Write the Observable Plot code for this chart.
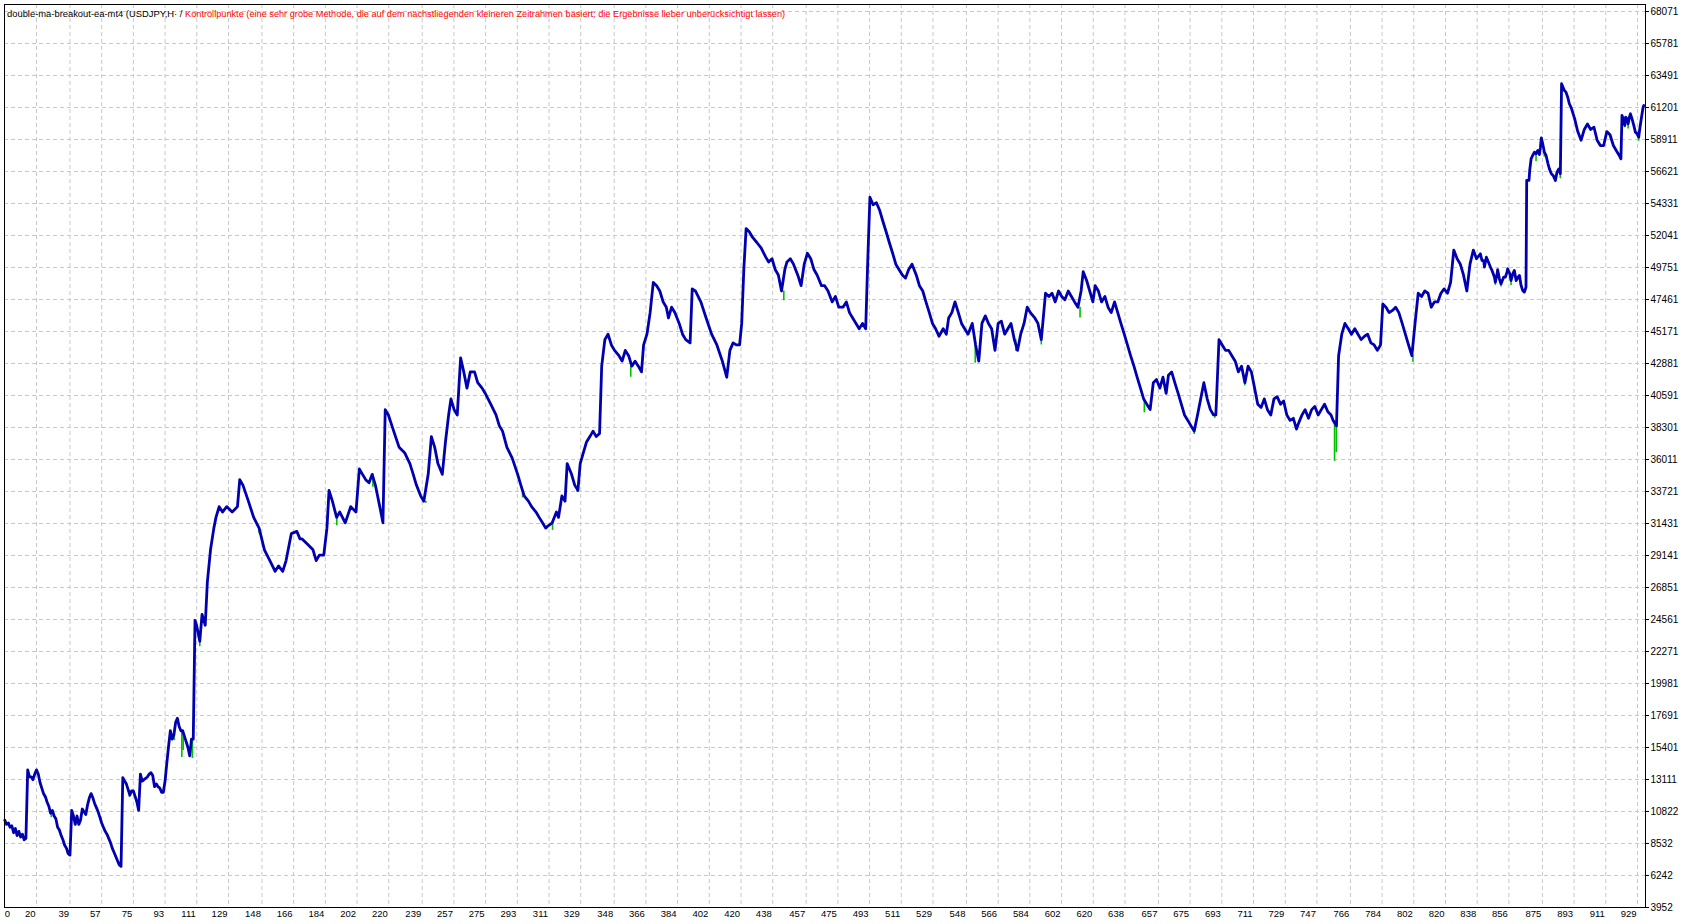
<!DOCTYPE html>
<html><head><meta charset="utf-8">
<script src="https://cdn.jsdelivr.net/npm/d3@7"></script>
<script src="https://cdn.jsdelivr.net/npm/@observablehq/plot@0.6"></script>
<style>
html,body{margin:0;padding:0;background:#fff;}
#chart{position:relative;width:1690px;height:924px;}
</style></head><body><div id="chart"></div>
<script>
const titleMain = "double-ma-breakout-ea-mt4 (USDJPY,H\u00B7 / ";
const titleNote = "Kontrollpunkte (eine sehr grobe Methode, die auf dem nächstliegenden kleineren Zeitrahmen basiert; die Ergebnisse lieber unberücksichtigt lassen)";

const yTicks = [3952, 6242, 8532, 10822, 13111, 15401, 17691, 19981, 22271, 24561, 26851, 29141, 31431, 33721, 36011, 38301, 40591, 42881, 45171, 47461, 49751, 52041, 54331, 56621, 58911, 61201, 63491, 65781, 68071];
const xTicks = [0, 20, 39, 57, 75, 93, 111, 129, 148, 166, 184, 202, 220, 239, 257, 275, 293, 311, 329, 348, 366, 384, 402, 420, 438, 457, 475, 493, 511, 529, 548, 566, 584, 602, 620, 638, 657, 675, 693, 711, 729, 747, 766, 784, 802, 820, 838, 856, 875, 893, 911, 929];

// balance curve: trade number / balance
const balTrade = [2,3,4,5,6,7,8,9,10,11,12,13,14,15,16,17,18,19,20,21,22,23,24,25,26,27,28,29,30,31,32,33,34,35,36,37,38,39,40,41,42,43,44,45,46,47,48,49,50,51,52,53,54,55,56,57,58,59,60,61,62,63,64,65,66,67,68,69,70,71,72,73,74,75,76,77,78,79,80,81,82,83,84,85,86,87,88,89,90,91,92,93,94,95,96,97,98,99,100,101,102,103,104,105,106,107,108,109,110,
110.9,112.7,114,115.8,117,118.8,120.7,121.9,123.7,125.6,128,131.1,134.1,135.4,137.2,140.3,143.3,146.4,149.4,152.5,155.5,157.4,159.8,161.7,163.5,164.7,167.8,169.6,170.8,173.9,177,178.8,180.6,183.1,184.9,186.1,188,190.4,192.2,195.3,198.4,201.4,203.3,205.1,206.9,208.8,210.6,212.4,214.9,216.7,218,219.8,222.8,225.9,229,232,233.9,235.7,238.1,239.9,242.4,244.2,246.1,247.9,250.4,252.2,254,255.3,257.1,258.9,260.8,262.6,264.4,266.3,268.7,270.5,273,274.8,277.9,280.9,282.8,284.6,287.1,290.1,293.2,295,296.9,299.3,301.1,303.6,305.4,307.3,309.1,310.3,312.8,315.2,316.4,318.3,320.1,321.3,323.8,325.6,327.4,328.7,330.5,332.3,334.2,336,337.8,339.7,340.9,342.7,344.5,346.4,348.2,350.7,352.5,354.3,356.2,358,359.9,361.7,363.5,364.7,366.6,368.4,370.2,372.1,373.9,375.8,377.6,378.8,380.6,382.5,384.9,386.8,388.6,391.1,392.3,394.1,397.2,400.2,403.3,406.3,409.4,411.9,413.7,415.5,417.3,419.2,420.4,421.6,422.9,424.7,426.5,429,431.4,433.9,435.7,437.6,439.4,441.2,443,444.9,446.1,448,449.8,452.2,454.1,455.9,457.7,459.6,461.4,463.2,465.7,467.5,469.4,471.8,473.6,475.5,477.9,479.8,481.6,483.4,485.3,487.1,489,490.8,492,493.2,495,496.9,498.7,500.5,502.4,504.2,506.1,507.9,509.7,511.6,513.4,515.2,517.1,519.5,521.3,523.2,525,526.9,528.7,530.5,532.4,534.8,536.6,537.9,539.7,541.5,543.4,545.2,547,548.9,551.3,553.2,555,556.8,558.7,560.5,562.3,564.2,566,567.8,569.7,571.5,573.3,575.2,577,578.8,580.7,582.5,584.3,586.8,588.6,590.5,592.9,594.8,596.6,598.4,600.3,602.1,603.9,605.8,607.6,609.4,611.3,613.1,614.3,616.2,618,619.8,621.1,622.9,624.7,626.6,628.4,630.2,632.1,633.9,635.7,637.6,639.4,641.2,643.1,644.9,646.8,648.6,650.4,652.3,654.1,655.9,657.8,659.6,661.4,662.7,664.5,666.3,668.2,670,671.8,673.7,675.5,677.3,679.2,681,682.8,684.7,686.5,688.3,689.6,691.4,693.2,695.1,696.9,698.7,700.6,702.4,704.2,706.1,707.9,709.8,711.6,713.4,715.3,717.1,718.9,720.8,722.6,724.4,726.3,728.1,729.9,731.8,733.6,735.4,736.7,738.5,740.3,742.2,744,745.8,747.7,749.5,751.3,753.2,755,756.2,758.1,759.3,761.1,762.9,764.8,766.6,768.5,770.3,772.1,774,775.8,777.6,779.5,781.3,783.1,784.4,786.2,788,789.9,791.7,793.5,795.4,797.2,799,800.9,802.7,804.5,806.4,808.2,810.1,811.9,813.7,815.6,817.4,819.2,821.1,822.9,824.7,826.6,828.4,830.2,832.1,833.9,835.8,837.6,
839.8,840.7,841.7,842.1,843.2,844,845.5,846.4,847.8,848.3,849.3,849.6,850.6,851.5,853,854,854.9,855.3,856.5,857.2,858.2,859.1,860.1,861.2,862,862.9,863.8,864.8,865.7,866.1,867.4,867.8,868.6,869.5,870.5,871.4,872.4,873.3,873.9,874.4,875.2,876.1,877.1,878.2,879,880.1,881.1,882.4,883.3,884.3,885.2,885.9,887.5,888.4,889.4,890.3,
891.4,893.3,895.1,897,898.8,900.6,902.4,904.3,906.1,907.9,909.8,911.6,913.4,915.3,917.1,918.9,
919.6,920.2,921.2,921.8,922.3,923.1,923.7,924.4,925,925.9,926.9,927.8,928.8,929.7,930.3,931,931.6,932.2,932.6];
const balValue = [10200,9900,10000,9700,9800,9300,9600,9100,9400,9000,9200,8800,8900,13800,13300,13300,13100,13500,13800,13500,12900,12500,12100,11900,11500,11200,10700,10900,10500,10300,9700,9500,9100,8800,8400,8200,7800,7700,10900,10500,9900,10500,9900,10200,11000,10800,10600,11300,11800,12100,11800,11400,11100,10800,10400,10000,9700,9400,9200,8900,8600,8200,7900,7600,7300,7000,6900,13250,13000,12800,12400,12000,12300,12300,11900,11500,10900,13500,13000,13100,13200,13300,13500,13600,13400,12600,12800,12600,12500,12200,12200,13000,14300,15500,16600,16000,16300,17200,17500,16900,16600,16600,16200,15800,15400,14800,16000,16000,24500,
24150,23000,24930,24150,27240,29550,31100,31870,32640,32250,32640,32250,32640,34570,34180,33030,31870,31100,29550,28780,28010,28400,28010,28780,29940,30710,30870,30330,30330,29940,29550,28780,29170,29170,31100,33800,33030,31870,32250,31480,32640,32250,35340,34950,34570,34340,34950,34180,32640,31480,39580,39200,38040,36880,36500,35720,34950,34180,33410,33030,34950,37650,36880,35720,34950,37270,39200,40350,39580,39200,43280,42280,41120,42280,42280,41510,41120,40740,39970,39200,38420,38040,36880,36110,34950,34180,33410,33030,32640,32250,31870,31480,31100,31250,31480,32250,31870,33410,33030,35720,34950,34180,33800,35720,36500,37270,37650,38040,37650,37880,42690,44590,44980,44210,43820,43440,43050,43820,43440,42690,43050,42690,42280,44210,44980,46520,48680,48450,48070,47290,46910,46140,46910,46520,45750,44980,44590,44360,48220,48070,47290,46140,44980,44210,43050,41900,43820,44360,44210,44210,45750,49610,52540,52310,51920,51540,51150,50530,50150,50380,49610,49220,48070,49610,50150,50380,49990,49220,48450,49990,50770,50380,49610,49220,48450,48450,48070,47290,47680,46910,46910,47290,46520,46140,45750,45370,45750,45370,50380,54780,54240,54390,53850,53080,52310,51540,50770,49990,49610,49220,48990,49610,49990,49220,48450,48070,47290,46520,45750,45370,44830,45370,44980,46140,46520,47290,46520,45750,45370,44980,45750,44210,43050,45750,46290,45750,45370,43820,45750,45910,44980,45370,45750,44590,43820,44980,45750,46910,46520,46140,45750,44590,47910,47680,47910,47290,48070,47680,47450,48070,47680,47290,46910,48070,49450,48840,48070,47290,48450,48070,47290,47680,46910,46520,47290,46520,45750,44980,44210,43440,42690,41900,41120,40350,39970,39580,41510,41740,41120,41900,40740,42050,42280,41510,40740,39970,39200,38810,38420,38040,39200,40350,41510,40350,39580,39200,39200,44590,44210,43820,43820,43440,43050,42280,42690,41510,42690,42280,41120,39970,39740,40350,39580,39200,40350,40510,39970,40200,39200,38810,38960,38190,38650,39200,39580,38960,39580,39810,39200,39580,39970,39430,39200,38810,38420,43440,44980,45750,45370,44980,45370,44980,44590,44830,44980,44360,44210,43820,44210,47140,46910,46520,46680,46910,46520,45750,44980,44210,43440,45750,47910,47680,48070,47910,46910,47290,47290,47910,48220,47910,48680,51000,50380,49990,49220,48070,49990,51000,50380,
50730,50250,50250,49780,50490,50250,49780,49540,49060,48700,49300,49590,48940,48580,49060,49060,49420,49660,49300,48820,49300,49540,48820,49060,49180,48470,48110,47990,48350,55980,55980,56690,57530,57770,58010,57890,58130,57840,58360,59030,58600,58010,57770,57170,56810,56460,56340,55980,56580,56810,56460,62900,62420,62300,61940,61470,
61180,60410,59480,58860,59630,60020,59630,59790,58860,58480,58480,59480,59250,58480,58090,57710,
57530,60630,60270,59920,60510,60390,60030,60510,60750,60390,59920,59440,59320,59080,59680,60270,60750,61230,61350];

// equity dips (green) below the balance
const dipTrade = [4.5, 24.6, 28.4, 56.5, 72.8, 98.2, 102.5, 103.3, 108.5, 112.7, 146.4, 190.5, 211, 241, 296, 313, 327, 357.4, 444.3, 553, 576, 590.5, 612.5, 649, 677.3, 689, 706, 757, 758, 801.5, 848.3, 851.5, 857.2, 871.4, 876.1, 882.4, 885.2, 921.8, 923.7, 929.7];
const dipLow = [9700, 11750, 10390, 10040, 11820, 15900, 14690, 15190, 14620, 22620, 30700, 31270, 34030, 32870, 33260, 30940, 33640, 41900, 47370, 42900, 43750, 44210, 46140, 39350, 37800, 38960, 41280, 35880, 36500, 42970, 48470, 48350, 48470, 57340, 57650, 55860, 56100, 59750, 59670, 58790];
const dipHigh = [10000, 11900, 10700, 10400, 12300, 16300, 16600, 16600, 16000, 23000, 31100, 31870, 34950, 33030, 33800, 31480, 34000, 42690, 48070, 44210, 44590, 44590, 46910, 40350, 38040, 39200, 41510, 38810, 38420, 43440, 48700, 48580, 48820, 57890, 58010, 55980, 56460, 59920, 60030, 59080];

const balance = balTrade.map((t, i) => ({t, v: balValue[i]}));
const dips = dipTrade.map((t, i) => ({t, lo: dipLow[i], hi: dipHigh[i]}));
const xGrid = xTicks.filter(d => d > 0);
const fmt = d => String(d);
const gridStyle = {stroke: "#c8c8c8", strokeOpacity: 1, strokeWidth: 1, strokeDasharray: "4,3"};

const plot = Plot.plot({
  width: 1690,
  height: 924,
  marginLeft: 4,
  marginRight: 45,
  marginTop: 4,
  marginBottom: 17,
  x: {domain: [1.83, 933.55], axis: null},
  y: {domain: [3952, 68572], axis: null},
  style: {background: "white", fontFamily: "'Liberation Sans', Arial, sans-serif", fontSize: "10px", color: "black", overflow: "visible"},
  marks: [
    Plot.gridY(yTicks, gridStyle),
    Plot.gridX(xGrid, gridStyle),
    Plot.ruleX(dips, {x: "t", y1: "lo", y2: "hi", stroke: "#00c000", strokeWidth: 1.6}),
    Plot.line(balance, {x: "t", y: "v", stroke: "#0000b0", strokeWidth: 2.8}),
    Plot.frame({stroke: "#000", strokeWidth: 1}),
    Plot.axisY(yTicks, {anchor: "right", tickSize: 3, tickPadding: 2, tickFormat: fmt, label: null, fontSize: 10}),
    Plot.axisX(xGrid, {anchor: "bottom", tickSize: 0, tickPadding: 3, textAnchor: "end", dx: -1, tickFormat: fmt, label: null, fontSize: 9.5}),
    Plot.text([xTicks[0]], {x: d => d, frameAnchor: "bottom", lineAnchor: "top", dy: 3, dx: 3.5, textAnchor: "start", text: fmt, fontSize: 9.5, fill: "black"})
  ]
});
document.getElementById("chart").append(plot);

const svg = d3.select(plot);
const title = svg.append("text")
  .attr("x", 7).attr("y", 16.5)
  .attr("text-anchor", "start")
  .style("font-family", "'Liberation Sans', Arial, sans-serif");
title.append("tspan").attr("fill", "#000").style("font-size", "9.4px").text(titleMain);
title.append("tspan").attr("fill", "#ff0000").style("font-size", "9.2px").text(titleNote);
</script>
</body></html>
